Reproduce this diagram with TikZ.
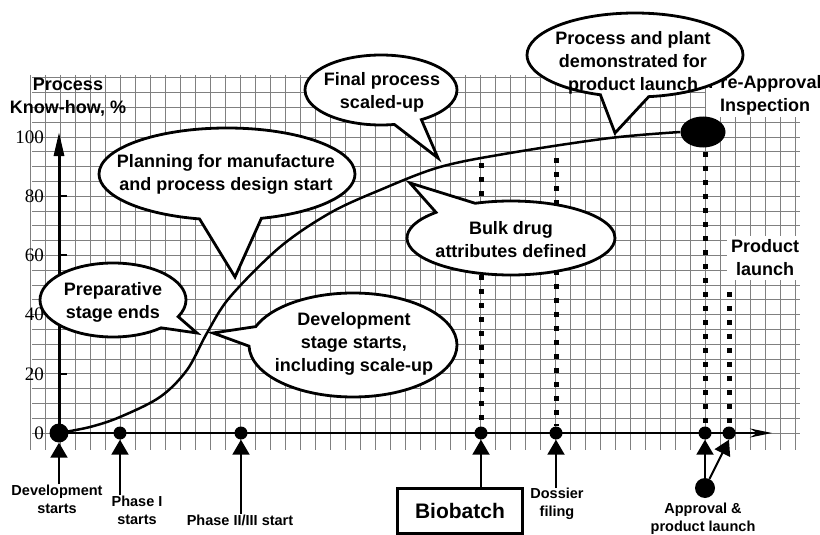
\documentclass[tikz,border=0pt]{standalone}
\usepackage{fontspec}
\setmainfont{Liberation Sans}
\newfontfamily\tickfont{Liberation Serif}
\usetikzlibrary{arrows.meta,shapes.geometric,shapes.callouts,positioning}

\tikzset{
  balloon/.style={ellipse callout, draw, fill=white, line width=2.8pt, inner sep=0pt, callout pointer arc=22},
  btext/.style={font=\fontsize{18}{23}\selectfont\bfseries, align=center, inner sep=0pt},
  axlabel/.style={font=\fontsize{14.5}{18}\selectfont\bfseries, align=center, inner sep=0pt},
  ticklabel/.style={font=\tickfont\fontsize{19}{21}\selectfont, inner sep=0pt, anchor=east},
  milestone/.style={circle, fill, inner sep=0pt, minimum size=13pt},
  uparrow/.style={line width=2pt, -{Triangle[length=15pt,width=17pt]}},
  dotline/.style={line width=5pt, dash pattern=on 5pt off 9pt},
  gridline/.style={black!50, line width=0.7pt},
}

\begin{document}
\begin{tikzpicture}[x=1pt,y=-1pt]
  \useasboundingbox (0,0) rectangle (820,535);

  % graph paper
  \foreach \k in {0,...,51}
    \draw[gridline] (30+15*\k,75) -- (30+15*\k,450);
  \foreach \k in {0,...,24}
    \draw[gridline] (32,433-14.8*\k) -- (800,433-14.8*\k);

  % axes
  \coordinate (origin) at (59,433);
  \coordinate (ytop) at (59,132);
  \coordinate (xend) at (772,433);
  \draw[line width=3pt, -{Triangle[length=24pt,width=10pt]}] (origin) -- (ytop);
  \draw[line width=2pt, -{Stealth[length=22pt,width=9pt]}] (origin) -- (xend);
  \foreach \v in {0,20,...,100}
    \node[ticklabel] (v\v) at (44,{433-2.96*\v}) {\v};
  \foreach \v in {20,40,...,80}
    \draw[line width=2pt] (59,{433-2.96*\v}) -- ++(8,0);
  \node[btext] (yname) at (68,97) {Process\\Know-how, \%};

  % milestones on the time axis
  \foreach \n/\x in {1/120, 2/241, 3/481, 4/556, 5/705, 6/729}
    \node[milestone] (m\n) at (\x,433) {};

  % dotted markers up from the axis
  \foreach \n/\y in {3/163, 4/158, 5/152, 6/292}
    \draw[dotline] (m\n |- 0,\y) -- (m\n);

  \node[btext, fill=white, inner sep=2pt] (paitext) at (765,95) {Pre-Approval\\Inspection};
  \node[btext, fill=white, inner sep=4pt] (launch) at (765,258) {Product\\launch};

  % balloons
  \coordinate (tipplant) at (615,133);
  \coordinate (tipfinal) at (438,158);
  \coordinate (tipplan) at (235,277);
  \coordinate (tipprep) at (197,333);
  \coordinate (tipdev) at (213,333);
  \coordinate (tipbulk) at (410,183);

  \node[balloon, callout pointer arc=26, minimum width=216pt, minimum height=84pt, callout absolute pointer={(tipplant)}] (plant) at (635,55) {};
  \node[btext] (planttext) at (633,63) {Process and plant\\demonstrated for\\product launch};

  \node[balloon, minimum width=152pt, minimum height=70pt, callout absolute pointer={(tipfinal)}] (final) at (381,90) {};
  \node[btext] (finaltext) at (382,92) {Final process\\scaled-up};

  \node[balloon, callout pointer arc=28, minimum width=256pt, minimum height=92pt, callout absolute pointer={(tipplan)}] (plan) at (227,174) {};
  \node[btext] (plantext) at (226,174) {Planning for manufacture\\and process design start};

  \node[balloon, minimum width=146pt, minimum height=74pt, callout absolute pointer={(tipprep)}] (prep) at (113,300) {};
  \node[btext] (preptext) at (113,302) {Preparative\\stage ends};

  \node[balloon, minimum width=208pt, minimum height=104pt, callout absolute pointer={(tipdev)}] (dev) at (353,345) {};
  \node[btext] (devtext) at (354,344) {Development\\stage starts,\\including scale-up};

  \node[balloon, callout pointer arc=26, minimum width=208pt, minimum height=74pt, callout absolute pointer={(tipbulk)}] (bulk) at (511,238) {};
  \node[btext] (bulktext) at (511,240) {Bulk drug\\attributes defined};

  % know-how curve
  \node[ellipse, fill, minimum width=45pt, minimum height=31pt, inner sep=0pt] (pai) at (703,132) {};
  \draw[line width=2.5pt] plot[smooth, tension=0.55] coordinates {(origin) (90,427) (120,417) (160,397) (187,370) (207,333) (230,297) (280,247) (330,213) (380,190) (440,167) (510,153) (610,138) (pai.west)};
  \node[milestone, minimum size=19pt] (m0) at (origin) {};

  % labels under the axis
  \node[axlabel] (devstart) at (57,499) {Development\\starts};
  \node[axlabel] (phase1) at (137,510) {Phase I\\starts};
  \node[axlabel] (phase23) at (240,520) {Phase II/III start};
  \node[draw, line width=2.5pt, font=\fontsize{21}{24}\selectfont\bfseries, minimum width=125pt, minimum height=45pt] (bio) at (460,511) {Biobatch};
  \node[axlabel] (dossier) at (557,504) {Dossier\\filing};
  \node[axlabel] (approval) at (703,519) {Approval \&\\product launch};
  \node[milestone, minimum size=20pt] (appdot) at (705,488) {};

  % arrows up to the milestones
  \draw[uparrow] (m0 |- devstart.north) -- (m0.south);
  \draw[uparrow] (m1 |- phase1.north) -- (m1.south);
  \draw[uparrow] (m2 |- phase23.north) -- (m2.south);
  \draw[uparrow] (m3 |- bio.north) -- (m3.south);
  \draw[uparrow] (m4 |- dossier.north) -- (m4.south);
  \draw[uparrow] (appdot) -- (m5.south);
  \draw[uparrow] (appdot) -- (m6.south);

\end{tikzpicture}
\end{document}
